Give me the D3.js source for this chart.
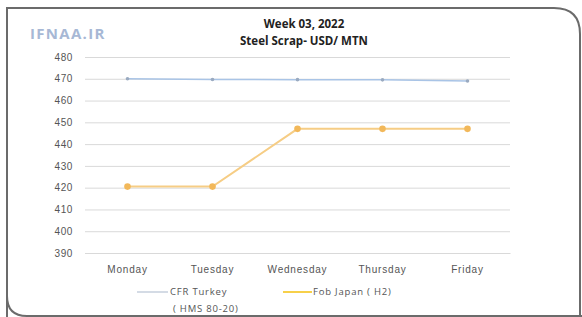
<!DOCTYPE html>
<html>
<head>
<meta charset="utf-8">
<script src="https://cdn.jsdelivr.net/npm/d3@7"></script>
<style>
  body { margin: 0; background: #ffffff; }
  svg { display: block; font-family: "Open Sans", "DejaVu Sans", sans-serif; }
</style>
</head>
<body>
<div id="chart"></div>
<script>
var days = ["Monday", "Tuesday", "Wednesday", "Thursday", "Friday"];
var cfrTurkey = [470, 469.7, 469.6, 469.5, 469];
var fobJapan = [420.5, 420.5, 447, 447, 447];
var yTicks = [390, 400, 410, 420, 430, 440, 450, 460, 470, 480];
var seriesNames = ["CFR Turkey", "Fob Japan ( H2)"];

var W = 582, H = 317;
var margin = { top: 57, right: 72, bottom: 64, left: 85 },
  width = W - margin.left - margin.right,
  height = H - margin.top - margin.bottom;

var root = d3.select("#chart").append("svg")
  .attr("width", W)
  .attr("height", H);

// frame: square top-left, rounded top-right and bottom-left
root.append("path")
  .attr("fill", "none")
  .attr("stroke", "#6b6b6b")
  .attr("stroke-width", 2)
  .attr("d", "M7,330 L7,296 Q7,316 27,316 L600,316 M7,296 L7,8 L554,8 Q580,8 580,34 L580,330");

// watermark
root.append("text")
  .attr("x", 30).attr("y", 39)
  .attr("font-size", 15).attr("font-weight", "bold")
  .attr("fill", "#a7b8d5")
  .attr("letter-spacing", 1.3)
  .text("IFNAA.IR");

// title
root.append("text")
  .attr("x", 304).attr("y", 28)
  .attr("text-anchor", "middle")
  .attr("font-size", 11.5).attr("font-weight", "bold")
  .attr("fill", "#222")
  .text("Week 03, 2022");
root.append("text")
  .attr("x", 304).attr("y", 45)
  .attr("text-anchor", "middle")
  .attr("font-size", 11.5).attr("font-weight", "bold")
  .attr("fill", "#222")
  .text("Steel Scrap- USD/ MTN");

var svg = root.append("g")
  .attr("transform", "translate(" + margin.left + "," + margin.top + ")");

var x = d3.scaleBand().domain(days).range([0, width]);
var y = d3.scaleLinear().domain([390, 480]).range([height, 0]);

// gridlines
svg.append("g")
  .call(d3.axisLeft(y).tickValues(yTicks).tickSize(-width).tickFormat(""))
  .call(function (g) { g.select(".domain").remove(); })
  .selectAll("line")
  .attr("stroke", "#d9d9d9");

// y labels
svg.append("g")
  .call(d3.axisLeft(y).tickValues(yTicks).tickSize(0).tickPadding(12))
  .call(function (g) { g.select(".domain").remove(); })
  .selectAll("text")
  .attr("font-size", 10)
  .attr("letter-spacing", 0.6)
  .attr("fill", "#555");

// x labels
svg.append("g")
  .attr("transform", "translate(0," + height + ")")
  .call(d3.axisBottom(x).tickSize(0).tickPadding(13))
  .call(function (g) { g.select(".domain").attr("stroke", "#d9d9d9"); })
  .selectAll("text")
  .attr("font-size", 10)
  .attr("letter-spacing", 0.8)
  .attr("fill", "#555");

var cx = function (d, i) { return x(days[i]) + x.bandwidth() / 2; };
var line = d3.line().x(cx).y(function (d) { return y(d); });

svg.append("path").datum(cfrTurkey)
  .attr("fill", "none").attr("stroke", "#a9c4e6").attr("stroke-width", 1.5)
  .attr("d", line);
svg.selectAll("circle.cfr").data(cfrTurkey).enter().append("circle")
  .attr("class", "cfr")
  .attr("cx", cx).attr("cy", function (d) { return y(d); })
  .attr("r", 1.8).attr("fill", "#9aaac0");

svg.append("path").datum(fobJapan)
  .attr("fill", "none").attr("stroke", "#f6cd85").attr("stroke-width", 2)
  .attr("d", line);
svg.selectAll("circle.fob").data(fobJapan).enter().append("circle")
  .attr("class", "fob")
  .attr("cx", cx).attr("cy", function (d) { return y(d); })
  .attr("r", 3.3).attr("fill", "#f2b85a");

// legend
var lg = root.append("g");
lg.append("line").attr("x1", 137).attr("x2", 168).attr("y1", 292).attr("y2", 292)
  .attr("stroke", "#b8c4d4").attr("stroke-width", 1.2);
lg.append("text").attr("x", 170).attr("y", 295)
  .attr("font-size", 9.5).attr("letter-spacing", 0.8)
  .attr("fill", "#555").text(seriesNames[0]);
lg.append("text").attr("x", 173).attr("y", 312)
  .attr("font-size", 9.5).attr("letter-spacing", 0.8)
  .attr("fill", "#555").text("( HMS 80-20)");
lg.append("line").attr("x1", 283).attr("x2", 312).attr("y1", 292).attr("y2", 292)
  .attr("stroke", "#f7d04a").attr("stroke-width", 2);
lg.append("text").attr("x", 313).attr("y", 295)
  .attr("font-size", 9.5).attr("letter-spacing", 0.8)
  .attr("fill", "#555").text(seriesNames[1]);
</script>
</body>
</html>
